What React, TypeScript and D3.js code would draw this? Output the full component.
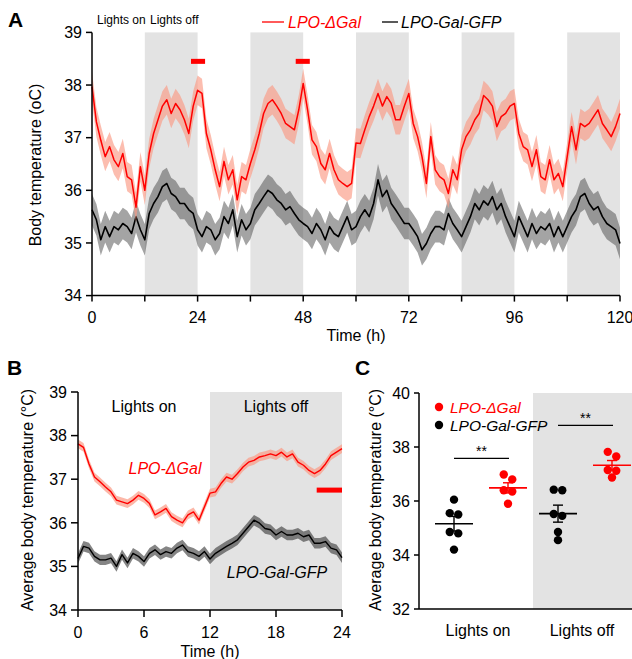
import React from "react";
import * as d3 from "d3";

const FONT = "'Liberation Sans', Arial, Helvetica, sans-serif";

// ---------- Panel A: 5 days, hourly means (°C) ----------
const hoursA = d3.range(0, 121);
const redA = [
  37.97, 37.3, 36.95, 36.64, 36.83, 36.58, 36.45, 36.7, 36.26, 36.2, 35.68, 36.45, 36.0,
  36.7, 37.08, 37.34, 37.6, 37.72, 37.46, 37.65, 37.53, 37.34, 37.08, 37.6, 37.9,
  37.84, 37.08, 36.77, 36.39, 36.07, 36.55, 36.2, 36.39, 35.82, 36.26, 36.2, 36.51,
  36.77, 37.08, 37.46, 37.65, 37.72, 37.6, 37.46, 37.27, 37.21, 37.15, 37.53, 38.03,
  37.53, 36.96, 36.83, 36.51, 36.39, 36.7, 36.39, 36.2, 36.13, 36.07, 36.13, 36.9,
  36.89, 37.15, 37.4, 37.6, 37.84, 37.6, 37.78, 37.65, 37.34, 37.34, 37.6, 37.84,
  37.27, 37.02, 36.64, 36.13, 37.02, 36.39, 36.26, 36.2, 35.94, 36.39, 36.2, 36.77,
  37.02, 37.15, 37.34, 37.46, 37.8, 37.72, 37.6, 37.21, 37.4, 37.46, 37.6, 37.65,
  37.08, 36.83, 36.77, 36.45, 36.77, 36.26, 36.2, 36.58, 36.2, 36.32, 36.07, 36.64,
  37.21, 36.77, 37.27, 37.21, 37.27, 37.4, 37.53, 37.27, 37.15, 37.02, 37.21, 37.46,
];
const blackA = [
  35.63, 35.44, 35.06, 35.31, 35.12, 35.31, 35.25, 35.37, 35.31, 35.18, 35.5, 35.25, 35.06,
  35.56, 35.75, 35.88, 36.07, 36.13, 35.94, 35.88, 35.75, 35.75, 35.63, 35.56, 35.25,
  35.12, 35.31, 35.25, 35.06, 35.18, 35.5, 35.37, 35.63, 35.12, 35.44, 35.25, 35.37,
  35.63, 35.75, 35.88, 36.0, 35.94, 35.82, 35.75, 35.63, 35.69, 35.56, 35.44, 35.37,
  35.31, 35.18, 35.37, 35.25, 35.06, 35.31, 35.18, 35.12, 35.31, 35.5, 35.25, 35.31,
  35.5, 35.63, 35.5, 35.75, 36.2, 35.88, 36.0, 35.75, 35.63, 35.5, 35.37, 35.37,
  35.25, 35.12, 34.87, 34.99, 35.18, 35.31, 35.31, 35.25, 35.56, 35.37, 35.25, 35.12,
  35.31, 35.5, 35.75, 35.63, 35.8, 35.72, 35.88, 35.63, 35.75, 35.5, 35.31, 35.12,
  35.5, 35.31, 35.12, 35.37, 35.18, 35.31, 35.25, 35.37, 35.12, 35.31, 35.12, 35.31,
  35.5, 35.63, 35.88, 35.94, 35.75, 35.63, 35.69, 35.5, 35.37, 35.31, 35.25, 34.99,
];
const semRedA = 0.28;
const semBlackA = 0.3;
const darkA = [[12, 24], [36, 48], [60, 72], [84, 96], [108, 120]];
const sigA = [[22.5, 25.7], [46.3, 49.5]];
const sigLevelA = 38.45;
const yTicksA = [34, 35, 36, 37, 38, 39];
const xTicksA = [0, 12, 24, 36, 48, 60, 72, 84, 96, 108, 120];
const xLabelsA = [0, 24, 48, 72, 96, 120];

// ---------- Panel B: averaged day, half-hour means ----------
const hoursB = d3.range(0, 24.5, 0.5);
const redB = [
  37.81, 37.73, 37.35, 37.05, 36.94, 36.82, 36.71, 36.52, 36.48, 36.44, 36.52, 36.63, 36.56,
  36.44, 36.18, 36.25, 36.33, 36.14, 36.06, 36.0, 36.18, 36.25, 36.06, 36.37, 36.68,
  36.71, 36.9, 37.05, 37.0, 37.13, 37.28, 37.39, 37.43, 37.51, 37.54, 37.58, 37.54,
  37.62, 37.51, 37.58, 37.39, 37.32, 37.2, 37.13, 37.2, 37.35, 37.54, 37.62, 37.7,
];
const blackB = [
  35.18, 35.46, 35.42, 35.23, 35.15, 35.15, 35.19, 35.0, 35.27, 35.08, 35.3, 35.23, 35.11,
  35.3, 35.38, 35.27, 35.34, 35.3, 35.42, 35.49, 35.34, 35.3, 35.23, 35.34, 35.17,
  35.3, 35.38, 35.46, 35.53, 35.61, 35.76, 35.91, 36.06, 35.99, 35.87, 35.84, 35.72,
  35.8, 35.72, 35.72, 35.76, 35.68, 35.72, 35.53, 35.53, 35.57, 35.42, 35.38, 35.2,
];
const semRedB = 0.1;
const semBlackB = 0.12;
const darkB = [12, 24];
const sigB = [21.7, 24];
const sigLevelB = 36.75;
const yTicksB = [34, 35, 36, 37, 38, 39];
const xTicksB = [0, 6, 12, 18, 24];

// ---------- Panel C: per-animal averages ----------
const phases = ["Lights on", "Lights off"];
const onBlack = [36.05, 35.5, 35.55, 34.8, 34.85, 34.2];
const onRed = [36.98, 36.8, 36.4, 36.35, 35.9];
const offBlack = [36.4, 36.42, 35.45, 35.52, 34.85, 34.55];
const offRed = [37.82, 37.65, 37.15, 37.12, 36.87];
const sigLevelC = [37.58, 38.8];
const yTicksC = [32, 34, 36, 38, 40];

const RED = "#ff0000";
const GREY_BG = "#e3e3e3";

type Band = { t: number; v: number };

function Trace({ t, v, sem, x, y, line, fill, fillOpacity, width }: any) {
  const pts: Band[] = t.map((tt: number, i: number) => ({ t: tt, v: v[i] }));
  const area = d3
    .area<Band>()
    .x((d) => x(d.t))
    .y0((d) => y(d.v - sem))
    .y1((d) => y(d.v + sem));
  const ln = d3
    .line<Band>()
    .x((d) => x(d.t))
    .y((d) => y(d.v));
  return (
    <g>
      <path d={area(pts) || ""} fill={fill} fillOpacity={fillOpacity} />
      <path d={ln(pts) || ""} fill="none" stroke={line} strokeWidth={width} strokeLinejoin="round" />
    </g>
  );
}

function LeftAxis({ y, ticks, x0, len = 6, fs = 16 }: any) {
  const [r0, r1] = y.range();
  return (
    <g>
      <line x1={x0} x2={x0} y1={r0} y2={r1} stroke="#000" strokeWidth={1.5} />
      {ticks.map((t: number) => (
        <g key={t}>
          <line x1={x0 - len} x2={x0} y1={y(t)} y2={y(t)} stroke="#000" strokeWidth={1.5} />
          <text x={x0 - len - 4} y={y(t) + fs * 0.36} textAnchor="end" fontSize={fs}>
            {t}
          </text>
        </g>
      ))}
    </g>
  );
}

function BottomAxis({ x, ticks, labels, y0, len = 6, fs = 16, dy = 27 }: any) {
  const [r0, r1] = x.range();
  return (
    <g>
      <line x1={r0} x2={r1} y1={y0} y2={y0} stroke="#000" strokeWidth={1.5} />
      {ticks.map((t: number) => (
        <line key={t} x1={x(t)} x2={x(t)} y1={y0} y2={y0 + len} stroke="#000" strokeWidth={1.5} />
      ))}
      {labels.map((t: number) => (
        <text key={t} x={x(t)} y={y0 + dy} textAnchor="middle" fontSize={fs}>
          {t}
        </text>
      ))}
    </g>
  );
}

function dodge(vals: number[], step: number) {
  const order = vals.map((v, i) => ({ v, i })).sort((a, b) => b.v - a.v);
  const off = new Array(vals.length).fill(0);
  let group: { v: number; i: number }[] = [];
  const flush = () => {
    group.forEach((g, k) => (off[g.i] = (k - (group.length - 1) / 2) * step));
    group = [];
  };
  order.forEach((o) => {
    if (group.length && group[group.length - 1].v - o.v > 0.22) flush();
    group.push(o);
  });
  flush();
  return off;
}

function sem(vals: number[]) {
  return (d3.deviation(vals) || 0) / Math.sqrt(vals.length);
}

export default function App() {
  // A
  const xA = d3.scaleLinear().domain([0, 120]).range([92, 620]);
  const yA = d3.scaleLinear().domain([34, 39]).range([295.6, 32.4]);
  // B
  const xB = d3.scaleLinear().domain([0, 24]).range([78, 342]);
  const yB = d3.scaleLinear().domain([34, 39]).range([610, 392]);
  // C
  const xC = d3.scaleBand().domain(phases).range([429, 637]);
  const yC = d3.scaleLinear().domain([32, 40]).range([609, 393]);
  const series = d3.scalePoint().domain(["GFP", "dGal"]).range([-27, 27]);
  const groupsC = [
    { phase: "Lights on", s: "GFP", vals: onBlack, color: "#000" },
    { phase: "Lights on", s: "dGal", vals: onRed, color: RED },
    { phase: "Lights off", s: "GFP", vals: offBlack, color: "#000" },
    { phase: "Lights off", s: "dGal", vals: offRed, color: RED },
  ];
  const cx = (p: string, s: string) => (xC(p) || 0) + xC.bandwidth() / 2 + (series(s) || 0);

  return (
    <svg
      width={632}
      height={659}
      style={{ position: "absolute", left: 0, top: 0, background: "#fff" }}
      fontFamily={FONT}
    >
      {/* ===== Panel A ===== */}
      <text x={8} y={27} fontSize={21} fontWeight="bold">A</text>
      {darkA.map(([a, b]) => (
        <rect key={a} x={xA(a)} y={yA(39)} width={xA(b) - xA(a)} height={yA(34) - yA(39)} fill={GREY_BG} />
      ))}
      <Trace t={hoursA} v={blackA} sem={semBlackA} x={xA} y={yA} line="#000" fill="#4a4a4a" fillOpacity={0.5} width={1.6} />
      <Trace t={hoursA} v={redA} sem={semRedA} x={xA} y={yA} line={RED} fill="#fb9a84" fillOpacity={0.65} width={1.5} />
      {sigA.map(([a, b]) => (
        <rect key={a} x={xA(a)} y={yA(sigLevelA) - 2.5} width={xA(b) - xA(a)} height={5} fill={RED} />
      ))}
      <LeftAxis y={yA} ticks={yTicksA} x0={92} />
      <BottomAxis x={xA} ticks={xTicksA} labels={xLabelsA} y0={295.6} />
      <text x={356} y={341} textAnchor="middle" fontSize={16}>Time (h)</text>
      <text transform="translate(41,165) rotate(-90)" textAnchor="middle" fontSize={16}>
        Body temperature (oC)
      </text>
      <text x={97} y={24} fontSize={12}>Lights on</text>
      <text x={150} y={24} fontSize={12}>Lights off</text>
      <line x1={262} x2={284} y1={22} y2={22} stroke={RED} strokeWidth={1.3} />
      <text x={288} y={28} fontSize={16} fontStyle="italic" fill={RED}>LPO-ΔGal</text>
      <line x1={382} x2={398} y1={22} y2={22} stroke="#000" strokeWidth={1.3} />
      <text x={401} y={28} fontSize={16} fontStyle="italic">LPO-Gal-GFP</text>

      {/* ===== Panel B ===== */}
      <text x={7} y={375} fontSize={21} fontWeight="bold">B</text>
      <rect x={xB(darkB[0])} y={yB(39)} width={xB(darkB[1]) - xB(darkB[0])} height={yB(34) - yB(39)} fill={GREY_BG} />
      <Trace t={hoursB} v={blackB} sem={semBlackB} x={xB} y={yB} line="#000" fill="#333" fillOpacity={0.6} width={1.4} />
      <Trace t={hoursB} v={redB} sem={semRedB} x={xB} y={yB} line={RED} fill="#fb9a84" fillOpacity={0.7} width={1.4} />
      <rect x={xB(sigB[0])} y={yB(sigLevelB) - 2.5} width={xB(sigB[1]) - xB(sigB[0])} height={5} fill={RED} />
      <LeftAxis y={yB} ticks={yTicksB} x0={78} len={7} />
      <BottomAxis x={xB} ticks={xTicksB} labels={xTicksB} y0={610} dy={28} len={7} />
      <text x={210} y={657} textAnchor="middle" fontSize={16}>Time (h)</text>
      <text transform="translate(33,500) rotate(-90)" textAnchor="middle" fontSize={16}>
        Average body temperature (°C)
      </text>
      <text x={xB(6)} y={412} textAnchor="middle" fontSize={16}>Lights on</text>
      <text x={xB(18)} y={412} textAnchor="middle" fontSize={16}>Lights off</text>
      <text x={165} y={474} textAnchor="middle" fontSize={16} fontStyle="italic" fill={RED}>LPO-ΔGal</text>
      <text x={277} y={578} textAnchor="middle" fontSize={16} fontStyle="italic">LPO-Gal-GFP</text>

      {/* ===== Panel C ===== */}
      <text x={355} y={375} fontSize={21} fontWeight="bold">C</text>
      <rect
        x={xC("Lights off")}
        y={yC(40)}
        width={xC.bandwidth()}
        height={yC(32) - yC(40)}
        fill={GREY_BG}
      />
      {groupsC.map((g) => {
        const x0 = cx(g.phase, g.s);
        const m = d3.mean(g.vals) || 0;
        const e = sem(g.vals);
        const off = dodge(g.vals, 8.5);
        return (
          <g key={g.phase + g.s}>
            {g.vals.map((v, i) => (
              <circle key={i} cx={x0 + off[i]} cy={yC(v)} r={4.2} fill={g.color} />
            ))}
            <line x1={x0 - 19} x2={x0 + 19} y1={yC(m)} y2={yC(m)} stroke={g.color} strokeWidth={1.6} />
            <line x1={x0} x2={x0} y1={yC(m - e)} y2={yC(m + e)} stroke={g.color} strokeWidth={1.4} />
            <line x1={x0 - 5} x2={x0 + 5} y1={yC(m + e)} y2={yC(m + e)} stroke={g.color} strokeWidth={1.4} />
            <line x1={x0 - 5} x2={x0 + 5} y1={yC(m - e)} y2={yC(m - e)} stroke={g.color} strokeWidth={1.4} />
          </g>
        );
      })}
      {phases.map((p, i) => {
        const a = cx(p, "GFP");
        const b = cx(p, "dGal") + 1;
        return (
          <g key={p}>
            <line x1={a} x2={b} y1={yC(sigLevelC[i])} y2={yC(sigLevelC[i])} stroke="#000" strokeWidth={1.2} />
            <text x={(a + b) / 2} y={yC(sigLevelC[i]) - 2} textAnchor="middle" fontSize={14}>**</text>
          </g>
        );
      })}
      <LeftAxis y={yC} ticks={yTicksC} x0={419} len={5} />
      <line x1={419} x2={632} y1={609} y2={609} stroke="#000" strokeWidth={1.5} />
      {phases.map((p) => (
        <text key={p} x={(xC(p) || 0) + xC.bandwidth() / 2 - 3} y={636} textAnchor="middle" fontSize={16}>
          {p}
        </text>
      ))}
      <text transform="translate(381,500) rotate(-90)" textAnchor="middle" fontSize={16}>
        Average body temperature (°C)
      </text>
      <circle cx={439} cy={407} r={4.2} fill={RED} />
      <text x={450} y={413} fontSize={15.5} fontStyle="italic" fill={RED}>LPO-ΔGal</text>
      <circle cx={439} cy={425} r={4.2} fill="#000" />
      <text x={450} y={431} fontSize={15.5} fontStyle="italic">LPO-Gal-GFP</text>
    </svg>
  );
}
